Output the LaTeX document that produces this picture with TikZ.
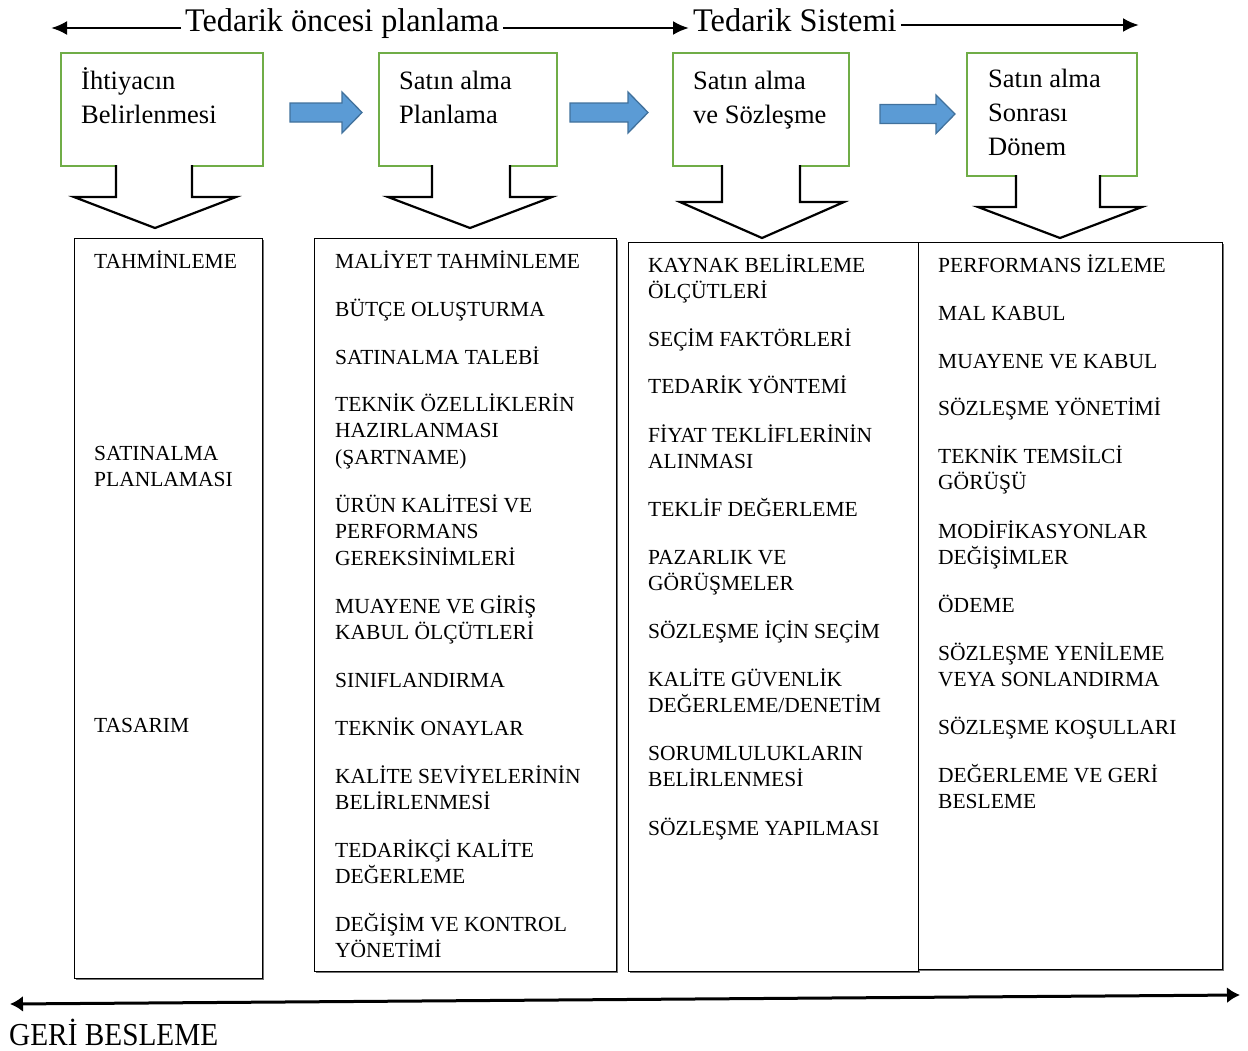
\documentclass[tikz,border=0pt]{standalone}
\usepackage{fontspec}
\usepackage{graphicx}
\setmainfont{Liberation Serif}
\usetikzlibrary{calc,arrows.meta,shadows}

\definecolor{phasegreen}{RGB}{112,173,71}
\definecolor{flowblue}{RGB}{91,155,213}
\definecolor{flowedge}{RGB}{65,113,156}

\begin{document}
\begin{tikzpicture}[x=1pt,y=-1pt,
  phase/.style={draw=phasegreen, line width=2.4pt, anchor=north west, inner sep=0pt},
  phasetext/.style={anchor=north west, inner sep=0pt, align=left,
    font=\fontsize{26.5}{34}\selectfont},
  listbox/.style={draw, line width=1.4pt, fill=white, anchor=north west, inner sep=0pt,
    drop shadow={shadow xshift=1.6pt, shadow yshift=-1.6pt, fill=black!55, opacity=1}},
  entry/.style={anchor=north west, inner sep=0pt, align=left, yshift=11.35pt,
    font=\fontsize{21.5}{26.5}\selectfont},
  headline/.style={anchor=base west, inner sep=4pt, font=\fontsize{33}{38}\selectfont},
  span/.style={line width=2.6pt, -{Latex[length=16pt,width=14pt]}},
  feedback/.style={line width=3pt, {Latex[length=13pt,width=16pt]}-{Latex[length=13pt,width=16pt]}},
  flow/.style={fill=flowblue, draw=flowedge, line width=1.3pt, line join=miter},
  hollow/.style={draw, fill=white, line width=2.2pt, line join=miter}
]
\useasboundingbox (0,0) rectangle (1248,1050);

% ---- headings with their spans ----
\node[headline] (pre) at (181,31) {\scalebox{0.975}[1]{Tedarik öncesi planlama}};
\node[headline] (sys) at (689,31) {\scalebox{0.98}[1]{Tedarik Sistemi}};
\coordinate (preL) at (51,28);
\coordinate (sysR) at (1139,25);
\draw[span] ($(pre.base west)+(0,-3)$) -- (preL);
\draw[span] ($(pre.base east)+(0,-3)$) -- ($(sys.base west)+(0,-3)$);
\draw[span] ($(sys.base east)+(0,-6)$) -- (sysR);

% ---- phase boxes ----
\node[phase, minimum width=202pt, minimum height=113pt] (p1) at (60,52) {};
\node[phase, minimum width=178pt, minimum height=113pt] (p2) at (378,52) {};
\node[phase, minimum width=176pt, minimum height=113pt] (p3) at (672,52) {};
\node[phase, minimum width=170pt, minimum height=123pt] (p4) at (966,52) {};

\node[phasetext] (p1t) at (81,65) {\strut İhtiyacın\\Belirlenmesi};
\node[phasetext] (p2t) at (399,65) {\strut Satın alma\\Planlama};
\node[phasetext] (p3t) at (693,65) {\strut Satın alma\\ve Sözleşme};
\node[phasetext] (p4t) at (988,63) {\strut Satın alma\\Sonrası\\Dönem};

% ---- blue flow arrows between phases ----
\draw[flow] (290,103) -- (342,103) -- (342,92) -- (362,112.5) -- (342,133) -- (342,122) -- (290,122) -- cycle;
\draw[flow] (570,103) -- (628,103) -- (628,92) -- (648,112.5) -- (628,133) -- (628,122) -- (570,122) -- cycle;
\draw[flow] (880,104.5) -- (936,104.5) -- (936,95) -- (955,114) -- (936,133.5) -- (936,123.5) -- (880,123.5) -- cycle;

% ---- hollow down arrows from each phase ----
\draw[hollow] (116,165) -- (116,197) -- (74,197) -- (155,228) -- (236,197) -- (192,197) -- (192,165);
\draw[hollow] (432,165) -- (432,197) -- (388,197) -- (470,228) -- (552,197) -- (510,197) -- (510,165);
\draw[hollow] (722,165) -- (722,202) -- (680,202) -- (762,238) -- (844,202) -- (800,202) -- (800,165);
\draw[hollow] (1016,175) -- (1016,207) -- (978,207) -- (1060,238) -- (1142,207) -- (1100,207) -- (1100,175);

% ---- activity lists ----
\node[listbox, minimum width=188pt, minimum height=740pt] (l1) at (74,238) {};
\node[listbox, minimum width=302pt, minimum height=733pt] (l2) at (314,238) {};
\node[listbox, minimum width=290pt, minimum height=729pt] (l3) at (628,242) {};
\node[listbox, minimum width=304pt, minimum height=727pt] (l4) at (918,242) {};

% first list
\node[entry] (a1) at (94,261) {\strut TAHMİNLEME};
\node[entry] (a2) at (94,453) {\strut SATINALMA\\PLANLAMASI};
\node[entry] (a3) at (94,725) {\strut TASARIM};

% second list
\node[entry] (b1) at (335,261) {\strut MALİYET TAHMİNLEME};
\node[entry] (b2) at (335,309) {\strut BÜTÇE OLUŞTURMA};
\node[entry] (b3) at (335,357) {\strut SATINALMA TALEBİ};
\node[entry] (b4) at (335,404) {\strut TEKNİK ÖZELLİKLERİN\\HAZIRLANMASI\\(ŞARTNAME)};
\node[entry] (b5) at (335,505) {\strut ÜRÜN KALİTESİ VE\\PERFORMANS\\GEREKSİNİMLERİ};
\node[entry] (b6) at (335,606) {\strut MUAYENE VE GİRİŞ\\KABUL ÖLÇÜTLERİ};
\node[entry] (b7) at (335,680) {\strut SINIFLANDIRMA};
\node[entry] (b8) at (335,728) {\strut TEKNİK ONAYLAR};
\node[entry] (b9) at (335,776) {\strut KALİTE SEVİYELERİNİN\\BELİRLENMESİ};
\node[entry] (b10) at (335,850) {\strut TEDARİKÇİ KALİTE\\DEĞERLEME};
\node[entry] (b11) at (335,924) {\strut DEĞİŞİM VE KONTROL\\YÖNETİMİ};

% third list
\node[entry] (c1) at (648,265) {\strut KAYNAK BELİRLEME\\ÖLÇÜTLERİ};
\node[entry] (c2) at (648,339) {\strut SEÇİM FAKTÖRLERİ};
\node[entry] (c3) at (648,386) {\strut TEDARİK YÖNTEMİ};
\node[entry] (c4) at (648,435) {\strut FİYAT TEKLİFLERİNİN\\ALINMASI};
\node[entry] (c5) at (648,509) {\strut TEKLİF DEĞERLEME};
\node[entry] (c6) at (648,557) {\strut PAZARLIK VE\\GÖRÜŞMELER};
\node[entry] (c7) at (648,631) {\strut SÖZLEŞME İÇİN SEÇİM};
\node[entry] (c8) at (648,679) {\strut KALİTE GÜVENLİK\\DEĞERLEME/DENETİM};
\node[entry] (c9) at (648,753) {\strut SORUMLULUKLARIN\\BELİRLENMESİ};
\node[entry] (c10) at (648,828) {\strut SÖZLEŞME YAPILMASI};

% fourth list
\node[entry] (d1) at (938,265) {\strut PERFORMANS İZLEME};
\node[entry] (d2) at (938,313) {\strut MAL KABUL};
\node[entry] (d3) at (938,361) {\strut MUAYENE VE KABUL};
\node[entry] (d4) at (938,408) {\strut SÖZLEŞME YÖNETİMİ};
\node[entry] (d5) at (938,456) {\strut TEKNİK TEMSİLCİ\\GÖRÜŞÜ};
\node[entry] (d6) at (938,531) {\strut MODİFİKASYONLAR\\DEĞİŞİMLER};
\node[entry] (d7) at (938,605) {\strut ÖDEME};
\node[entry] (d8) at (938,653) {\strut SÖZLEŞME YENİLEME\\VEYA SONLANDIRMA};
\node[entry] (d9) at (938,727) {\strut SÖZLEŞME KOŞULLARI};
\node[entry] (d10) at (938,775) {\strut DEĞERLEME VE GERİ\\BESLEME};

% ---- feedback line ----
\coordinate (fbL) at (10,1004);
\coordinate (fbR) at (1240,995);
\draw[feedback] (fbL) -- (fbR);
\node[anchor=base west, inner sep=0pt, font=\fontsize{32}{36}\selectfont] (fb) at (9,1045)
  {\scalebox{0.915}[1]{GERİ BESLEME}};
\end{tikzpicture}
\end{document}
